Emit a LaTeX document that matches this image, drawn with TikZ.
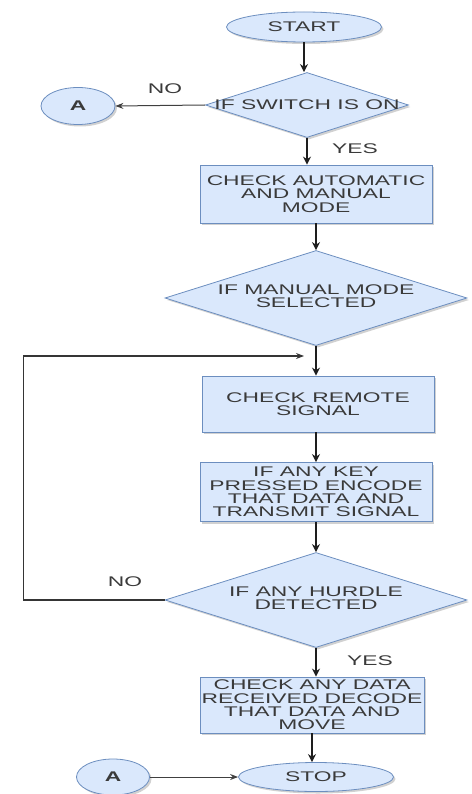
\documentclass[tikz,border=0pt]{standalone}
\usepackage{fontspec}
\setmainfont{Liberation Sans}[FakeStretch=1.63]
\usetikzlibrary{shapes.geometric,arrows.meta,shadows}
\definecolor{nfill}{HTML}{DAE8FC}
\definecolor{nline}{HTML}{6C8EBF}
\definecolor{ntext}{HTML}{3A3A3A}
\definecolor{aline}{HTML}{1E1E1E}
\begin{document}
\begin{tikzpicture}[x=1pt,y=-1pt,
 every node/.style={font=\fontsize{14}{13.3}\selectfont, text=ntext},
 base/.style={draw=nline, fill=nfill, line width=0.8pt, drop shadow={shadow xshift=2pt, shadow yshift=-2pt, opacity=0.3, fill=black!60}},
 term/.style={base, ellipse, inner sep=0pt},
 proc/.style={base, rectangle, inner sep=0pt, align=center},
 dec/.style={base, diamond, inner sep=0pt},
 lbl/.style={inner sep=0pt, align=center},
 arr/.style={draw=aline, line width=1.5pt, -{Stealth[length=8pt,width=8pt]}},
 thinarr/.style={draw=aline!85, line width=1pt, -{Stealth[length=8pt,width=6pt]}},
 looparr/.style={draw=aline!90, line width=1.2pt, -{Stealth[length=8pt,width=6pt]}}
]
\useasboundingbox (0,0) rectangle (471,794);
\node[term, minimum width=155pt, minimum height=30pt] (start) at (304,27) {START};
\node[dec, minimum width=203pt, minimum height=65pt] (d1) at (307,105) {};
\node[lbl] (d1t) at (d1) {IF SWITCH IS ON};
\node[term, minimum width=74pt, minimum height=37pt] (a1) at (78,106) {\textbf{A}};
\node[proc, minimum width=232pt, minimum height=58pt] (b1) at (316,194) {CHECK AUTOMATIC\\AND MANUAL\\MODE};
\node[dec, minimum width=302pt, minimum height=95pt] (d2) at (316,298) {};
\node[lbl] (d2t) at (316,296) {IF MANUAL MODE\\SELECTED};
\node[proc, minimum width=232pt, minimum height=56pt] (b2) at (318,404) {CHECK REMOTE\\SIGNAL};
\node[proc, minimum width=232pt, minimum height=59pt] (b3) at (316,492) {IF ANY KEY\\PRESSED ENCODE\\THAT DATA AND\\TRANSMIT SIGNAL};
\node[dec, minimum width=302pt, minimum height=95pt] (d3) at (316,600) {};
\node[lbl] (d3t) at (316,598) {IF ANY HURDLE\\DETECTED};
\node[proc, minimum width=224pt, minimum height=56pt] (b4) at (312,705) {CHECK ANY DATA\\RECEIVED DECODE\\THAT DATA AND\\MOVE};
\node[term, minimum width=155pt, minimum height=29pt] (stop) at (316,777) {STOP};
\node[term, minimum width=73pt, minimum height=36pt] (a2) at (113,777) {\textbf{A}};
\node[lbl] (no1) at (165,89) {NO};
\node[lbl] (yes1) at (355,149) {YES};
\node[lbl] (no2) at (125,582) {NO};
\node[lbl] (yes2) at (370,661) {YES};
\coordinate (lp) at (304,356);
\draw[arr] (start.south) -- (start.south |- d1.north);
\draw[thinarr] (d1.west) -- (a1.east);
\draw[arr] (d1.south) -- (d1.south |- b1.north);
\draw[arr] (b1.south) -- (d2.north);
\draw[arr] (d2.south) -- (d2.south |- b2.north);
\draw[arr] (d2.south |- b2.south) -- (d2.south |- b3.north);
\draw[arr] (b3.south) -- (d3.north);
\draw[arr] (d3.south) -- (d3.south |- b4.north);
\draw[arr] (b4.south) -- (b4.south |- stop.north);
\draw[thinarr] (a2.east) -- (stop.west);
\draw[looparr] (d3.west) -- ++(-141,0) |- (lp);
\end{tikzpicture}
\end{document}
